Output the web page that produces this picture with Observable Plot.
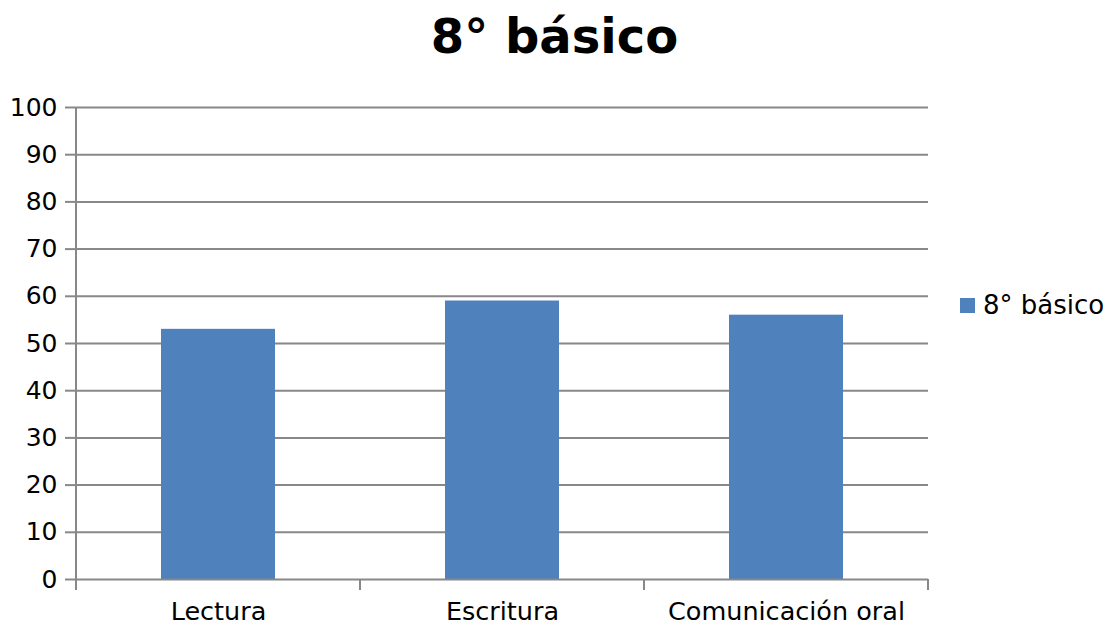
<!DOCTYPE html>
<html>
<head>
<meta charset="utf-8">
<script src="https://cdn.jsdelivr.net/npm/d3@7"></script>
<script src="https://cdn.jsdelivr.net/npm/@observablehq/plot@0.6"></script>
<style>
  html, body { margin: 0; padding: 0; background: #fff; }
  #wrap { position: relative; width: 1109px; height: 625px; font-family: "DejaVu Sans", sans-serif; }
  #title { position: absolute; left: 0; width: 1109px; top: 12px; text-align: center; font-size: 48px; font-weight: bold; line-height: 1; color: #000; }
  #legend { position: absolute; left: 960px; top: 290px; display: flex; align-items: center; font-size: 26px; color: #000; line-height: 30px; }
  #legend .sw { width: 15px; height: 15px; background: #4F81BD; margin-right: 8px; }
</style>
</head>
<body>
<div id="wrap">
  <div id="chart"></div>
  <div id="title"></div>
  <div id="legend"><span class="sw"></span><span id="legtext"></span></div>
</div>
<script>
const chartTitle = "8° básico";
const seriesName = "8° básico";
const categories = ["Lectura", "Escritura", "Comunicación oral"];
const values = [53, 59, 56];
const yTicks = [0, 10, 20, 30, 40, 50, 60, 70, 80, 90, 100];

const data = categories.map((c, i) => ({cat: c, value: values[i]}));
const gridColor = "#888888";
const barColor = "#4F81BD";

document.getElementById("title").textContent = chartTitle;
document.getElementById("legtext").textContent = seriesName;

const chart = Plot.plot({
  width: 1109,
  height: 625,
  marginTop: 107,
  marginBottom: 46,
  marginLeft: 76,
  marginRight: 181,
  style: {fontFamily: "DejaVu Sans", fontSize: "25px", color: "#000", background: "transparent", overflow: "visible"},
  x: {domain: categories, paddingInner: 0.6, paddingOuter: 0.3, label: null},
  y: {domain: [0, 100], label: null},
  marks: [
    Plot.gridY(yTicks.filter(d => d > 0), {stroke: gridColor, strokeOpacity: 1, strokeWidth: 2}),
    Plot.barY(data, {x: "cat", y: "value", fill: barColor}),
    Plot.ruleY([0], {stroke: gridColor, strokeWidth: 2}),
    Plot.axisY(yTicks, {tickSize: 11, tickPadding: 8, stroke: gridColor, strokeWidth: 2, strokeOpacity: 1, fill: "#000", label: null}),
    Plot.axisX({tickSize: 0, tickPadding: 22, fill: "#000", fontSize: 25.5, label: null})
  ]
});
document.getElementById("chart").appendChild(chart);

// decorative axis line and category boundary ticks, from the chart's own scales
const sx = chart.scale("x");
const sy = chart.scale("y");
const svg = d3.select(chart);
const y0 = sy.apply(0), y100 = sy.apply(100);
const half = sx.step / 2;
const bounds = [];
categories.forEach((c, i) => {
  const center = sx.apply(c) + sx.bandwidth / 2;
  if (i === 0) bounds.push(center - half);
  bounds.push(center + half);
});
const g = svg.append("g").attr("stroke", gridColor).attr("stroke-width", 2);
g.append("line").attr("x1", bounds[0]).attr("x2", bounds[0]).attr("y1", y100).attr("y2", y0 + 11);
bounds.forEach(b => {
  g.append("line").attr("x1", b).attr("x2", b).attr("y1", y0).attr("y2", y0 + 11);
});
</script>
</body>
</html>
